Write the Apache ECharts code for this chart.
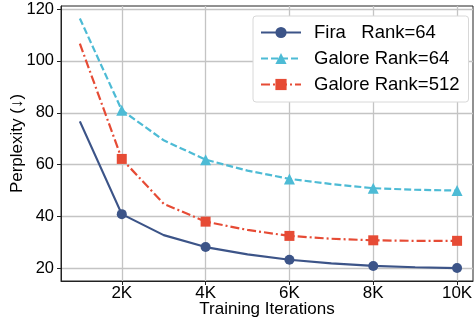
<!DOCTYPE html>
<html>
<head>
<meta charset="utf-8">
<script src="https://cdn.jsdelivr.net/npm/echarts@6/dist/echarts.min.js"></script>
<style>html,body{margin:0;padding:0;background:#fff}#c{width:475px;height:320px}</style>
</head>
<body>
<div id="c"></div>
<script>
const iterations = [1000, 2000, 3000, 4000, 5000, 6000, 7000, 8000, 9000, 10000];
const markedIters = [2000, 4000, 6000, 8000, 10000];
const xTicks = [2000, 4000, 6000, 8000, 10000];
const xTickLabels = ['2K', '4K', '6K', '8K', '10K'];
const yTicks = [20, 40, 60, 80, 100, 120];
const firaRank64 = [76.7, 40.9, 32.8, 28.2, 25.4, 23.3, 21.9, 20.9, 20.4, 20.1];
const galoreRank64 = [116.4, 81.0, 69.4, 61.9, 57.7, 54.5, 52.5, 50.9, 50.3, 50.0];
const galoreRank512 = [106.7, 62.2, 44.9, 38.0, 34.8, 32.5, 31.4, 30.8, 30.6, 30.6];
const seriesNames = ['Fira   Rank=64', 'Galore Rank=64', 'Galore Rank=512'];

function buildData(vals) {
  return iterations.map((x, i) => {
    const item = { value: [x, vals[i]] };
    if (markedIters.indexOf(x) < 0) item.symbol = 'none';
    return item;
  });
}
const font = 'Liberation Sans, Arial, sans-serif';
const chart = echarts.init(document.getElementById('c'), null, { renderer: 'canvas' });
chart.setOption({
  animation: false,
  backgroundColor: '#fff',
  grid: { left: 61, right: 2, top: 6, bottom: 39, show: true, borderColor: '#222', borderWidth: 1,
    containLabel: false, outerBoundsMode: 'none' },
  legend: {
    orient: 'vertical', left: 253, top: 16,
    padding: [7, 9, 8, 7],
    itemWidth: 40, itemHeight: 14, itemGap: 7,
    backgroundColor: '#fff', borderColor: '#d8d8d8', borderWidth: 1, borderRadius: 3,
    textStyle: { fontFamily: font, fontSize: 18.5, color: '#000', lineHeight: 18, padding: [0, 0, 0, 8] },
    data: seriesNames
  },
  xAxis: {
    type: 'value', min: 550, max: 10380,
    name: 'Training Iterations', nameLocation: 'middle', nameGap: 20, nameMoveOverlap: false,
    nameTextStyle: { fontFamily: font, fontSize: 17, color: '#000' },
    axisLine: { show: true, lineStyle: { color: '#222', width: 1 } },
    axisTick: { show: true, inside: false, length: 4, customValues: xTicks, lineStyle: { color: '#222' } },
    axisLabel: { customValues: xTicks, margin: 4, fontFamily: font, fontSize: 17, color: '#000',
      formatter: v => xTickLabels[xTicks.indexOf(v)] },
    splitLine: { show: true, lineStyle: { color: '#c4c4c4', width: 1.3 } }
  },
  yAxis: {
    type: 'value', min: 15.1, max: 121.2,
    name: 'Perplexity (↓)', nameLocation: 'middle', nameGap: 35, nameMoveOverlap: false,
    nameTextStyle: { fontFamily: font, fontSize: 17, color: '#000' },
    axisLine: { show: true, lineStyle: { color: '#222', width: 1 } },
    axisTick: { show: true, inside: false, length: 4, customValues: yTicks, lineStyle: { color: '#222' } },
    axisLabel: { customValues: yTicks, margin: 7, fontFamily: font, fontSize: 16.5, color: '#000' },
    splitLine: { show: true, lineStyle: { color: '#c4c4c4', width: 1.3 } }
  },
  series: [
    { name: seriesNames[0], type: 'line', data: buildData(firaRank64), symbol: 'circle', symbolSize: 10,
      itemStyle: { color: '#3C5488' }, lineStyle: { color: '#3C5488', width: 2.2 } },
    { name: seriesNames[1], type: 'line', data: buildData(galoreRank64), symbol: 'triangle', symbolSize: 11,
      itemStyle: { color: '#4DBBD5' }, lineStyle: { color: '#4DBBD5', width: 2.2, type: [7, 3] } },
    { name: seriesNames[2], type: 'line', data: buildData(galoreRank512), symbol: 'rect', symbolSize: 10,
      itemStyle: { color: '#E64B35' }, lineStyle: { color: '#E64B35', width: 2.2, type: [9, 3, 2, 3] } }
  ]
});
</script>
</body>
</html>
